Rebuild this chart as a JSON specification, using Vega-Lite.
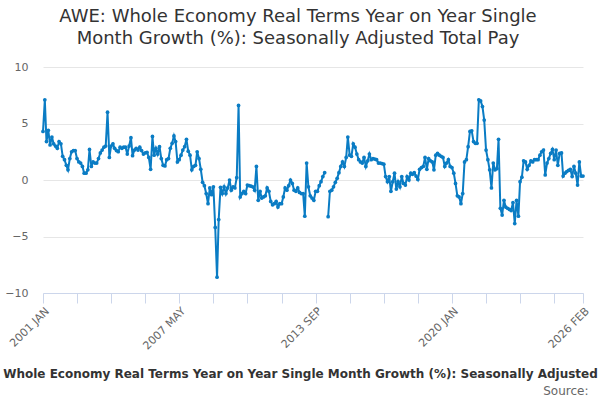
{
"$schema":"https://vega.github.io/schema/vega-lite/v6.json",
"autosize":{"type":"none"},
"width":540,"height":226,
"padding":{"left":43,"top":67,"right":17,"bottom":107},
"background":"white",
"config":{"view":{"stroke":null},"font":"DejaVu Sans"},
"title":{"text":["AWE: Whole Economy Real Terms Year on Year Single","Month Growth (%): Seasonally Adjusted Total Pay"],"fontSize":18,"fontWeight":"normal","color":"#333333","font":"DejaVu Sans","anchor":"middle","frame":"group","dx":-15,"offset":13,"lineHeight":22},
"data":{"values":[
{"m":"2001-01","v":4.3},{"m":"2001-02","v":7.1},{"m":"2001-03","v":3.4},{"m":"2001-04","v":4.4},{"m":"2001-05","v":3.1},{"m":"2001-06","v":3.8},{"m":"2001-07","v":3.2},{"m":"2001-08","v":3.0},{"m":"2001-09","v":2.8},{"m":"2001-10","v":3.4},{"m":"2001-11","v":3.2},{"m":"2001-12","v":2.1},
{"m":"2002-01","v":1.8},{"m":"2002-02","v":1.3},{"m":"2002-03","v":0.9},{"m":"2002-04","v":1.9},{"m":"2002-05","v":2.5},{"m":"2002-06","v":2.6},{"m":"2002-07","v":2.6},{"m":"2002-08","v":1.9},{"m":"2002-09","v":1.6},{"m":"2002-10","v":1.5},{"m":"2002-11","v":1.2},{"m":"2002-12","v":0.6},
{"m":"2003-01","v":0.6},{"m":"2003-02","v":0.9},{"m":"2003-03","v":2.7},{"m":"2003-04","v":1.2},{"m":"2003-05","v":1.6},{"m":"2003-06","v":1.5},{"m":"2003-07","v":1.5},{"m":"2003-08","v":1.9},{"m":"2003-09","v":2.4},{"m":"2003-10","v":2.65},{"m":"2003-11","v":2.9},{"m":"2003-12","v":3.0},
{"m":"2004-01","v":6.0},{"m":"2004-02","v":2.0},{"m":"2004-03","v":3.0},{"m":"2004-04","v":3.2},{"m":"2004-05","v":2.8},{"m":"2004-06","v":2.6},{"m":"2004-07","v":2.5},{"m":"2004-08","v":2.9},{"m":"2004-09","v":2.8},{"m":"2004-10","v":2.9},{"m":"2004-11","v":2.9},{"m":"2004-12","v":2.3},
{"m":"2005-01","v":3.0},{"m":"2005-02","v":3.75},{"m":"2005-03","v":2.15},{"m":"2005-04","v":2.65},{"m":"2005-05","v":2.8},{"m":"2005-06","v":2.65},{"m":"2005-07","v":2.9},{"m":"2005-08","v":2.6},{"m":"2005-09","v":2.3},{"m":"2005-10","v":2.4},{"m":"2005-11","v":2.45},{"m":"2005-12","v":2.0},
{"m":"2006-01","v":0.95},{"m":"2006-02","v":3.85},{"m":"2006-03","v":2.2},{"m":"2006-04","v":2.8},{"m":"2006-05","v":2.3},{"m":"2006-06","v":2.95},{"m":"2006-07","v":1.9},{"m":"2006-08","v":1.3},{"m":"2006-09","v":1.25},{"m":"2006-10","v":1.8},{"m":"2006-11","v":1.9},{"m":"2006-12","v":2.8},
{"m":"2007-01","v":3.25},{"m":"2007-02","v":3.9},{"m":"2007-03","v":3.4},{"m":"2007-04","v":1.6},{"m":"2007-05","v":1.8},{"m":"2007-06","v":2.2},{"m":"2007-07","v":2.65},{"m":"2007-08","v":2.95},{"m":"2007-09","v":3.6},{"m":"2007-10","v":2.55},{"m":"2007-11","v":2.2},{"m":"2007-12","v":0.9},
{"m":"2008-01","v":1.2},{"m":"2008-02","v":1.3},{"m":"2008-03","v":2.5},{"m":"2008-04","v":1.9},{"m":"2008-05","v":0.95},{"m":"2008-06","v":-0.2},{"m":"2008-07","v":-0.5},{"m":"2008-08","v":-1.2},{"m":"2008-09","v":-2.1},{"m":"2008-10","v":-0.7},{"m":"2008-11","v":-1.3},{"m":"2008-12","v":-0.6},
{"m":"2009-01","v":-4.2},{"m":"2009-02","v":-8.6},{"m":"2009-03","v":-3.5},{"m":"2009-04","v":-0.65},{"m":"2009-05","v":-1.2},{"m":"2009-06","v":-0.6},{"m":"2009-07","v":-1.2},{"m":"2009-08","v":-0.7},{"m":"2009-09","v":0.0},{"m":"2009-10","v":-0.9},{"m":"2009-11","v":-0.6},{"m":"2009-12","v":-0.7},
{"m":"2010-01","v":0.2},{"m":"2010-02","v":6.6},{"m":"2010-03","v":-1.5},{"m":"2010-04","v":-1.2},{"m":"2010-05","v":-1.0},{"m":"2010-06","v":-1.2},{"m":"2010-07","v":-0.45},{"m":"2010-08","v":-0.5},{"m":"2010-09","v":-0.55},{"m":"2010-10","v":-0.6},{"m":"2010-11","v":-0.9},{"m":"2010-12","v":1.2},
{"m":"2011-01","v":-1.8},{"m":"2011-02","v":-1.0},{"m":"2011-03","v":-1.6},{"m":"2011-04","v":-1.5},{"m":"2011-05","v":-1.4},{"m":"2011-06","v":-0.7},{"m":"2011-07","v":-1.0},{"m":"2011-08","v":-1.9},{"m":"2011-09","v":-2.2},{"m":"2011-10","v":-2.1},{"m":"2011-11","v":-1.9},{"m":"2011-12","v":-2.4},
{"m":"2012-01","v":-2.1},{"m":"2012-02","v":-2.1},{"m":"2012-03","v":-1.5},{"m":"2012-04","v":-0.7},{"m":"2012-05","v":-0.9},{"m":"2012-06","v":-0.5},{"m":"2012-07","v":0.0},{"m":"2012-08","v":-0.3},{"m":"2012-09","v":-0.9},{"m":"2012-10","v":-1.0},{"m":"2012-11","v":-0.7},{"m":"2012-12","v":-1.1},
{"m":"2013-01","v":-1.2},{"m":"2013-02","v":-1.2},{"m":"2013-03","v":-3.2},{"m":"2013-04","v":1.5},{"m":"2013-05","v":-0.6},{"m":"2013-06","v":-1.4},{"m":"2013-07","v":-1.6},{"m":"2013-08","v":-1.8},{"m":"2013-09","v":-1.0},{"m":"2013-10","v":-1.0},{"m":"2013-11","v":-0.5},{"m":"2013-12","v":-0.15},
{"m":"2014-01","v":0.3},{"m":"2014-02","v":0.65},{"m":"2014-03","v":null},{"m":"2014-04","v":-3.25},{"m":"2014-05","v":-1.0},{"m":"2014-06","v":-0.9},{"m":"2014-07","v":-0.6},{"m":"2014-08","v":-0.2},{"m":"2014-09","v":0.15},{"m":"2014-10","v":0.65},{"m":"2014-11","v":1.2},{"m":"2014-12","v":1.6},
{"m":"2015-01","v":1.2},{"m":"2015-02","v":2.0},{"m":"2015-03","v":3.8},{"m":"2015-04","v":2.2},{"m":"2015-05","v":2.1},{"m":"2015-06","v":3.2},{"m":"2015-07","v":2.9},{"m":"2015-08","v":2.3},{"m":"2015-09","v":1.8},{"m":"2015-10","v":1.6},{"m":"2015-11","v":1.5},{"m":"2015-12","v":2.0},
{"m":"2016-01","v":1.2},{"m":"2016-02","v":1.7},{"m":"2016-03","v":2.3},{"m":"2016-04","v":1.8},{"m":"2016-05","v":1.9},{"m":"2016-06","v":1.85},{"m":"2016-07","v":1.8},{"m":"2016-08","v":1.5},{"m":"2016-09","v":1.5},{"m":"2016-10","v":1.45},{"m":"2016-11","v":1.4},{"m":"2016-12","v":0.3},
{"m":"2017-01","v":-0.15},{"m":"2017-02","v":0.3},{"m":"2017-03","v":-1.0},{"m":"2017-04","v":-0.15},{"m":"2017-05","v":0.6},{"m":"2017-06","v":-0.8},{"m":"2017-07","v":-0.15},{"m":"2017-08","v":-0.6},{"m":"2017-09","v":0.3},{"m":"2017-10","v":-0.3},{"m":"2017-11","v":-0.45},{"m":"2017-12","v":0.3},
{"m":"2018-01","v":0.0},{"m":"2018-02","v":0.6},{"m":"2018-03","v":0.5},{"m":"2018-04","v":0.65},{"m":"2018-05","v":0.35},{"m":"2018-06","v":0.05},{"m":"2018-07","v":0.95},{"m":"2018-08","v":1.1},{"m":"2018-09","v":1.2},{"m":"2018-10","v":2.0},{"m":"2018-11","v":0.95},{"m":"2018-12","v":1.9},
{"m":"2019-01","v":1.7},{"m":"2019-02","v":1.6},{"m":"2019-03","v":0.9},{"m":"2019-04","v":2.2},{"m":"2019-05","v":2.35},{"m":"2019-06","v":2.2},{"m":"2019-07","v":2.1},{"m":"2019-08","v":2.0},{"m":"2019-09","v":1.2},{"m":"2019-10","v":1.5},{"m":"2019-11","v":1.8},{"m":"2019-12","v":1.2},
{"m":"2020-01","v":1.1},{"m":"2020-02","v":0.6},{"m":"2020-03","v":-0.3},{"m":"2020-04","v":-1.4},{"m":"2020-05","v":-1.5},{"m":"2020-06","v":-2.1},{"m":"2020-07","v":-1.2},{"m":"2020-08","v":1.6},{"m":"2020-09","v":1.8},{"m":"2020-10","v":2.95},{"m":"2020-11","v":4.3},{"m":"2020-12","v":4.35},
{"m":"2021-01","v":3.4},{"m":"2021-02","v":3.25},{"m":"2021-03","v":3.25},{"m":"2021-04","v":7.1},{"m":"2021-05","v":7.0},{"m":"2021-06","v":6.5},{"m":"2021-07","v":5.3},{"m":"2021-08","v":2.65},{"m":"2021-09","v":1.8},{"m":"2021-10","v":0.9},{"m":"2021-11","v":-0.7},{"m":"2021-12","v":1.5},
{"m":"2022-01","v":0.9},{"m":"2022-02","v":1.0},{"m":"2022-03","v":3.6},{"m":"2022-04","v":-2.5},{"m":"2022-05","v":-3.1},{"m":"2022-06","v":-1.8},{"m":"2022-07","v":-2.4},{"m":"2022-08","v":-2.5},{"m":"2022-09","v":-2.6},{"m":"2022-10","v":-2.7},{"m":"2022-11","v":-2.0},{"m":"2022-12","v":-3.85},
{"m":"2023-01","v":-1.8},{"m":"2023-02","v":-3.2},{"m":"2023-03","v":-0.15},{"m":"2023-04","v":0.25},{"m":"2023-05","v":1.7},{"m":"2023-06","v":1.6},{"m":"2023-07","v":0.95},{"m":"2023-08","v":1.3},{"m":"2023-09","v":1.7},{"m":"2023-10","v":1.6},{"m":"2023-11","v":1.8},{"m":"2023-12","v":1.8},
{"m":"2024-01","v":1.8},{"m":"2024-02","v":2.2},{"m":"2024-03","v":2.5},{"m":"2024-04","v":2.65},{"m":"2024-05","v":0.45},{"m":"2024-06","v":1.5},{"m":"2024-07","v":1.9},{"m":"2024-08","v":2.35},{"m":"2024-09","v":2.7},{"m":"2024-10","v":1.8},{"m":"2024-11","v":2.65},{"m":"2024-12","v":1.3},
{"m":"2025-01","v":2.35},{"m":"2025-02","v":2.4},{"m":"2025-03","v":0.35},{"m":"2025-04","v":0.6},{"m":"2025-05","v":0.75},{"m":"2025-06","v":0.85},{"m":"2025-07","v":0.95},{"m":"2025-08","v":0.3},{"m":"2025-09","v":1.2},{"m":"2025-10","v":0.6},{"m":"2025-11","v":-0.45},{"m":"2025-12","v":1.6},
{"m":"2026-01","v":0.35},{"m":"2026-02","v":0.35}
]},
"encoding":{
"y":{"field":"v","type":"quantitative","scale":{"domain":[-10,10],"nice":false,"zero":false},
"axis":{"values":[-10,-5,0,5,10],"title":null,"domain":false,"ticks":false,"grid":true,"gridColor":"#e6e6e6","gridWidth":1,"labelFontSize":11,"labelColor":"#666666","labelFont":"DejaVu Sans","labelPadding":15}}
},
"layer":[
{"mark":{"type":"line","color":"#0a7cc4","strokeWidth":2},
"encoding":{"x":{"field":"m","type":"temporal",
"scale":{"domain":[{"year":2001,"month":1,"date":1,"utc":true},{"year":2026,"month":2,"date":1,"utc":true}],"nice":false,"padding":0},
"axis":{"orient":"bottom","values":[{"year":2001,"month":1,"date":1,"utc":true},{"year":2002,"month":8,"date":1,"utc":true},{"year":2004,"month":3,"date":1,"utc":true},{"year":2005,"month":10,"date":1,"utc":true},{"year":2007,"month":5,"date":1,"utc":true},{"year":2008,"month":12,"date":1,"utc":true},{"year":2010,"month":7,"date":1,"utc":true},{"year":2012,"month":2,"date":1,"utc":true},{"year":2013,"month":9,"date":1,"utc":true},{"year":2015,"month":4,"date":1,"utc":true},{"year":2016,"month":11,"date":1,"utc":true},{"year":2018,"month":6,"date":1,"utc":true},{"year":2020,"month":1,"date":1,"utc":true},{"year":2021,"month":8,"date":1,"utc":true},{"year":2023,"month":3,"date":1,"utc":true},{"year":2024,"month":10,"date":1,"utc":true},{"year":2026,"month":2,"date":1,"utc":true}],
"labelExpr":"indexof(['2001-01','2007-05','2013-09','2020-01','2026-02'], utcFormat(datum.value,'%Y-%m')) >= 0 ? upper(utcFormat(datum.value,'%Y %b')) : ''",
"labelAngle":-45,"labelOverlap":false,"labelFlush":false,"labelBound":false,"labelFontSize":11,"labelColor":"#666666","labelFont":"DejaVu Sans","labelPadding":2,
"grid":false,"domainColor":"#ccd6eb","domainWidth":1,"tickColor":"#ccd6eb","tickSize":10,"tickWidth":1,
"title":"AWE: Whole Economy Real Terms Year on Year Single Month Growth (%): Seasonally Adjusted Total Pay","titleFontSize":12,"titleFontWeight":"bold","titleColor":"#333333","titleFont":"DejaVu Sans","titlePadding":17,"titleLimit":2000}}}},
{"mark":{"type":"point","filled":true,"color":"#0a7cc4","size":14,"opacity":1},
"encoding":{"x":{"field":"m","type":"temporal",
"axis":{"orient":"bottom","offset":88,"labels":false,"ticks":false,"domain":false,"grid":false,"title":"Source:","titleAnchor":"end","titleX":545,"titleAlign":"right","titleFontSize":12,"titleFontWeight":"normal","titleColor":"#666666","titleFont":"DejaVu Sans","titlePadding":4}}}}
],
"resolve":{"axis":{"x":"independent"}}
}
